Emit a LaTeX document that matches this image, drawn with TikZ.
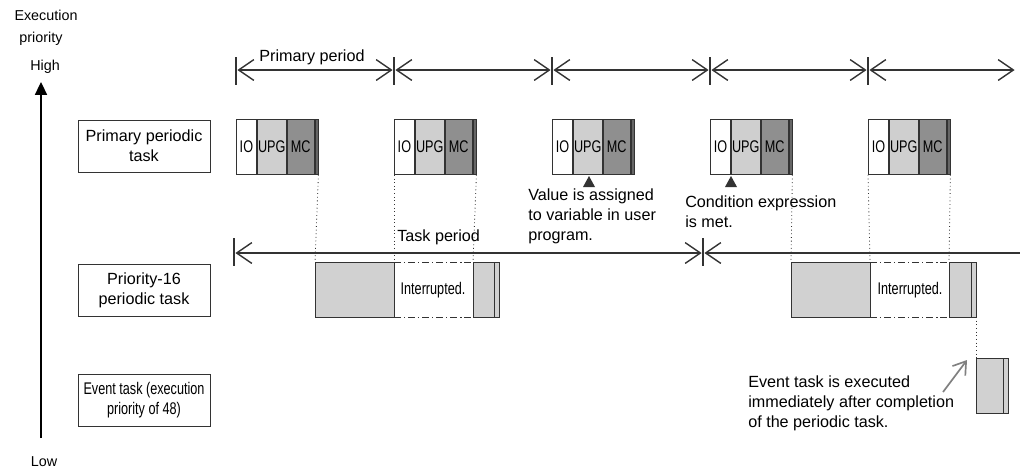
\documentclass[tikz,border=0pt]{standalone}
\usepackage{fontspec}
\setmainfont{Liberation Sans}
\usetikzlibrary{arrows.meta}

\definecolor{upggray}{gray}{0.81}
\definecolor{mcgray}{gray}{0.56}
\definecolor{stripgray}{gray}{0.40}
\definecolor{taskgray}{gray}{0.82}
\definecolor{linegray}{gray}{0.2}

% condensed text as in the task blocks
\newcommand{\narrowtext}[1]{{\fontsize{12}{14.2}\selectfont\scalebox{0.75}[1]{#1}}}

\tikzset{
  labelbox/.style={draw=linegray, line width=0.6pt, minimum width=3.3cm, minimum height=1.3cm, align=center, inner sep=1pt},
  seg/.style={draw=linegray, line width=0.6pt, minimum height=1.375cm, inner sep=0pt, anchor=north west},
  runbox/.style={draw=linegray, line width=0.6pt, fill=taskgray},
  periodarrow/.style={line width=0.9pt, linegray, {Straight Barb[length=0.38cm, width=0.52cm, line width=1pt]}-{Straight Barb[length=0.38cm, width=0.52cm, line width=1pt]}, shorten <=1pt, shorten >=1pt},
  periodtick/.style={line width=0.9pt, linegray},
  guide/.style={dotted, line width=0.6pt, linegray},
  gapline/.style={dash pattern=on 5pt off 2pt on 1pt off 2pt, line width=0.6pt, linegray}
}

\begin{document}
\begin{tikzpicture}[x=0.025cm, y=-0.025cm, font=\fontsize{11.5}{14.2}\selectfont]
  \useasboundingbox (0,0) rectangle (1020,470);

  % Priority axis
  \node[font=\fontsize{10.2}{12}\selectfont] (exec) at (46,15) {Execution};
  \node[font=\fontsize{10.2}{12}\selectfont] (prio) at (41,39) {priority};
  \node[font=\fontsize{10.2}{12}\selectfont] (high) at (45,67) {High};
  \node[font=\fontsize{10.2}{12}\selectfont] (low) at (44,462) {Low};
  \coordinate (axisbottom) at (41,438);
  \coordinate (axistop) at (41,82);
  \draw[line width=1.1pt, -{Triangle[length=0.32cm, width=0.3cm]}] (axisbottom) -- (axistop);

  % Task labels
  \node[labelbox] (primlabel) at (144,146) {Primary periodic\\task};
  \node[labelbox] (p16label) at (144,290) {Priority-16\\periodic task};
  \node[labelbox] (eventlabel) at (144,400) {\narrowtext{Event task (execution}\\\narrowtext{priority of 48)}};

  % Primary period arrows
  \foreach \i in {0,...,4}
    \coordinate (pp\i) at (236+158*\i,70);
  \coordinate (pp5) at (1016,70);
  \foreach \i in {0,...,4}
    \draw[periodtick] (236+158*\i,57) -- (236+158*\i,85);
  \foreach \i/\j in {0/1,1/2,2/3,3/4,4/5}
    \draw[periodarrow] (pp\i) -- (pp\j);
  \node (pplabel) at (312,57) {Primary period};

  % Primary periodic task blocks
  \foreach \i in {0,...,4} {
    \node[seg, fill=white, minimum width=0.5cm] (io\i) at (236+158*\i,119) {\narrowtext{IO}};
    \node[seg, fill=upggray, minimum width=0.725cm] (upg\i) at (io\i.north east) {\narrowtext{UPG}};
    \node[seg, fill=mcgray, minimum width=0.675cm] (mc\i) at (upg\i.north east) {\narrowtext{MC}};
    \node[seg, fill=stripgray, minimum width=0.075cm] (end\i) at (mc\i.north east) {};
  }

  % Markers and notes
  \fill[linegray] (583,187) -- (595,187) -- (589,176) -- cycle;
  \fill[linegray] (725,187) -- (737,187) -- (731,176) -- cycle;
  \node[anchor=west, align=left, inner sep=0pt] (valuenote) at (528,216) {Value is assigned\\to variable in user\\program.};
  \node[anchor=west, align=left, inner sep=0pt] (condnote) at (685,212) {Condition expression\\is met.};

  % Task period
  \coordinate (tp0) at (234,253);
  \coordinate (tp1) at (703,253);
  \coordinate (tp2) at (1020,253);
  \draw[periodtick] (234,238) -- (234,266);
  \draw[periodtick] (703,238) -- (703,266);
  \draw[periodarrow] (tp0) -- (tp1);
  \draw[line width=0.9pt, linegray, {Straight Barb[length=0.38cm, width=0.52cm, line width=1pt]}-, shorten <=1pt] (tp1) -- (tp2);
  \node[anchor=west, inner sep=0pt] (tplabel) at (397,237) {Task period};

  % Priority-16 periodic task runs
  \draw[runbox] (315,262) rectangle (394,317);
  \draw[gapline] (394,262) -- (473,262);
  \draw[gapline] (394,317) -- (473,317);
  \draw[runbox] (473,262) rectangle (494,317);
  \draw[runbox] (494,262) rectangle (499,317);
  \node (intr1) at (433,290) {\narrowtext{Interrupted.}};

  \draw[runbox] (791,262) rectangle (870,317);
  \draw[gapline] (870,262) -- (949,262);
  \draw[gapline] (870,317) -- (949,317);
  \draw[runbox] (949,262) rectangle (971,317);
  \draw[runbox] (971,262) rectangle (976,317);
  \node (intr2) at (910,290) {\narrowtext{Interrupted.}};

  % Event task run
  \draw[runbox] (976,358) rectangle (1003,413);
  \draw[runbox] (1003,358) rectangle (1008,413);

  % Dotted guides
  \draw[guide] (end0.south east) -- (315,262);
  \draw[guide] (io1.south west) -- (394,262);
  \draw[guide] (end1.south east) -- (473,262);
  \draw[guide] (end3.south east) -- (791,262);
  \draw[guide] (io4.south west) -- (870,262);
  \draw[guide] (end4.south east) -- (949,262);
  \draw[guide] (976,317) -- (976,358);

  % Event note
  \coordinate (evtail) at (943,392);
  \coordinate (evtip) at (967,360);
  \draw[line width=1.2pt, gray, -{Straight Barb[length=0.3cm, width=0.4cm]}] (evtail) -- (evtip);
  \node[anchor=west, align=left, inner sep=0pt] (eventnote) at (748,403) {Event task is executed\\immediately after completion\\of the periodic task.};
\end{tikzpicture}
\end{document}
